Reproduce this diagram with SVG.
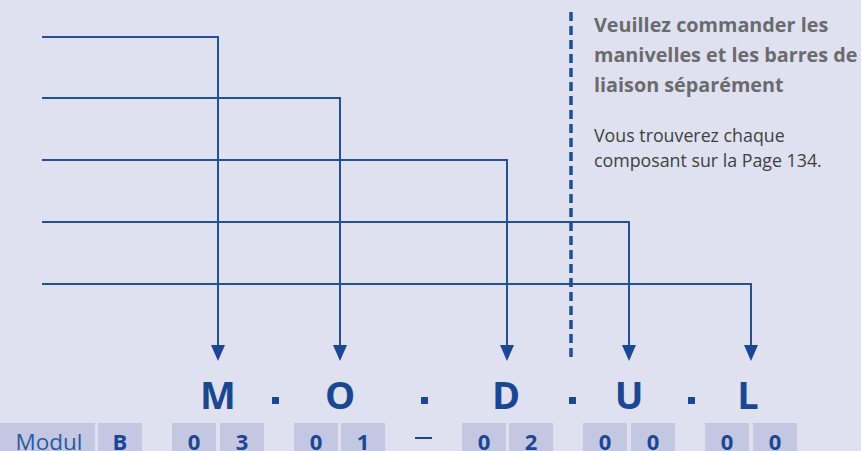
<svg xmlns="http://www.w3.org/2000/svg" width="861" height="451" viewBox="0 0 861 451">
<defs>
<style>
.ln{fill:none;stroke:#24509a;stroke-width:2}
.ah{fill:#1b4693}
.box{fill:#c4c7e1}
.dig{font-family:"Open Sans",sans-serif;font-weight:bold;font-size:22px;fill:#1b4693;text-anchor:middle}
.big{font-family:"Open Sans",sans-serif;font-weight:bold;font-size:38px;fill:#1b4693;text-anchor:middle}
.dot{fill:#1b4693}
.hd{font-family:"Open Sans",sans-serif;font-weight:bold;font-size:19.8px;fill:#6b6b6d}
.tx{font-family:"Open Sans",sans-serif;font-size:17.8px;fill:#404040}
</style>
</defs>
<rect width="861" height="451" fill="#dfe1f0"/>
<g id="connectors">
<path class="ln" d="M42,37 H218 V345"/>
<path class="ln" d="M42,98 H340 V345"/>
<path class="ln" d="M42,160 H507 V345"/>
<path class="ln" d="M42,222 H629 V345"/>
<path class="ln" d="M42,284 H751 V345"/>
<path class="ah" d="M211,345 L225,345 L218,361 Z"/>
<path class="ah" d="M333,345 L347,345 L340,361 Z"/>
<path class="ah" d="M500,345 L514,345 L507,361 Z"/>
<path class="ah" d="M622,345 L636,345 L629,361 Z"/>
<path class="ah" d="M744,345 L758,345 L751,361 Z"/>
</g>
<g id="divider">
<line x1="571" y1="12" x2="571" y2="362" stroke="#1f4e99" stroke-width="3.5" stroke-dasharray="9,5"/>
</g>
<g id="note">
<text class="hd" x="594" y="32">Veuillez commander les</text>
<text class="hd" x="594" y="62">manivelles et les barres de</text>
<text class="hd" x="594" y="92">liaison séparément</text>
<text class="tx" x="594" y="142">Vous trouverez chaque</text>
<text class="tx" x="594" y="167">composant sur la Page 134.</text>
</g>
<g id="code">
<text class="big" x="218" y="409">M</text>
<rect class="dot" x="272" y="397" width="7" height="7"/>
<text class="big" x="340" y="409">O</text>
<rect class="dot" x="421" y="397" width="7" height="7"/>
<text class="big" x="506" y="409">D</text>
<rect class="dot" x="569" y="397" width="7" height="7"/>
<text class="big" x="629" y="409">U</text>
<rect class="dot" x="688" y="397" width="7" height="7"/>
<text class="big" x="748" y="409">L</text>
</g>
<g id="boxes">
<rect class="box" x="0" y="423" width="95" height="28"/>
<text x="49" y="450" font-family="Open Sans, sans-serif" font-size="22.5" fill="#2a5aa0" text-anchor="middle">Modul</text>
<rect class="box" x="98" y="423" width="44" height="28"/><text class="dig" x="120" y="450">B</text>
<rect class="box" x="172" y="423" width="44" height="28"/><text class="dig" x="194" y="450">0</text>
<rect class="box" x="220" y="423" width="44" height="28"/><text class="dig" x="242" y="450">3</text>
<rect class="box" x="294" y="423" width="44" height="28"/><text class="dig" x="316" y="450">0</text>
<rect class="box" x="341" y="423" width="44" height="28"/><text class="dig" x="363" y="450">1</text>
<rect x="415" y="437" width="17" height="2" fill="#1b4693"/>
<rect class="box" x="462" y="423" width="44" height="28"/><text class="dig" x="484" y="450">0</text>
<rect class="box" x="509" y="423" width="44" height="28"/><text class="dig" x="531" y="450">2</text>
<rect class="box" x="583" y="423" width="44" height="28"/><text class="dig" x="605" y="450">0</text>
<rect class="box" x="631" y="423" width="44" height="28"/><text class="dig" x="653" y="450">0</text>
<rect class="box" x="705" y="423" width="44" height="28"/><text class="dig" x="727" y="450">0</text>
<rect class="box" x="753" y="423" width="44" height="28"/><text class="dig" x="775" y="450">0</text>
</g>
</svg>
